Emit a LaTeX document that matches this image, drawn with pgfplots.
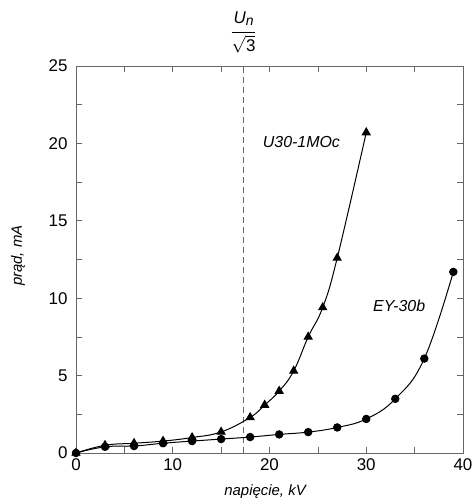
\documentclass[border=0pt]{standalone}
\usepackage{amsmath}
\usepackage{fontspec}
\setmainfont{Liberation Sans}
\usepackage{pgfplots}
\pgfplotsset{compat=1.18}
\begin{document}
\begin{tikzpicture}
\useasboundingbox (-76bp,-45bp) rectangle (396bp,453bp);
\begin{axis}[
  scale only axis, width=387bp, height=387bp,
  xmin=0, xmax=40, ymin=0, ymax=25,
  xtick={0,10,20,30,40}, minor xtick={5,15,25,35},
  ytick={0,5,10,15,20,25}, minor ytick={2.5,7.5,12.5,17.5,22.5},
  tick align=inside, major tick length=6bp, minor tick length=6bp,
  every tick/.style={gray!80!black, line width=0.6pt},
  axis line style={gray!80!black, line width=0.6pt},
  /pgf/number format/assume math mode=true,
  ticklabel style={font=\fontsize{17}{19}\selectfont},
  xticklabel style={yshift=-2bp},
  yticklabel style={xshift=-5bp},
  xlabel={\textit{napięcie, kV}}, ylabel={\textit{prąd, mA}},
  label style={font=\fontsize{15}{17}\selectfont},
  xlabel style={at={(axis description cs:0.49,-0.10)}, anchor=center},
  ylabel style={at={(axis description cs:-0.15,0.51)}, anchor=center},
  clip=false,
]
\draw[dashed, gray!80!black, dash pattern=on 6bp off 4bp, line width=0.6pt]
  (axis cs:17.32,0) -- (axis cs:17.32,25);
\node[anchor=south, inner sep=0pt, yshift=9bp, font=\fontsize{17}{19}\selectfont] at (axis cs:17.32,25)
  {\begin{tabular}{@{}c@{}}\textit{U}\raisebox{-2bp}{\fontsize{14}{14}\selectfont\textit{n}}\\[3bp]\hline\rule{0pt}{19bp}$\sqrt{\text{3}}$\end{tabular}};
\addplot[black, line width=1pt, smooth, tension=0.7, mark=triangle*, mark size=4.5bp]
  coordinates {(0,0) (3,0.5) (6,0.63) (9,0.77) (12,1.0) (15,1.36) (18,2.3)
  (19.5,3.1) (21,4.0) (22.5,5.3) (24,7.5) (25.5,9.4) (27,12.6) (30,20.7)};
\addplot[black, line width=1pt, smooth, tension=0.7, mark=*, mark size=3.7bp]
  coordinates {(0,0) (3,0.4) (6,0.45) (9,0.63) (12,0.77) (15,0.9) (18,1.03)
  (21,1.2) (24,1.35) (27,1.65) (30,2.2) (33,3.5) (36,6.1) (39,11.7)};
\node[font=\fontsize{16}{18}\selectfont\itshape] at (axis cs:23.3,20.1) {U30-1MOc};
\node[font=\fontsize{16}{18}\selectfont\itshape] at (axis cs:33.4,9.5) {EY-30b};
\end{axis}
\end{tikzpicture}
\end{document}
